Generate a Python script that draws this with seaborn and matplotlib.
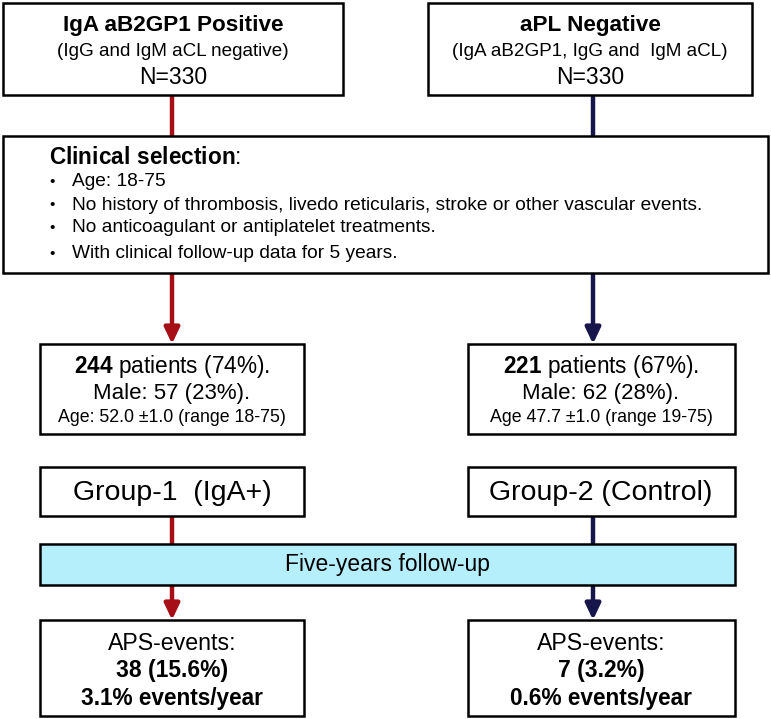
import matplotlib
matplotlib.use("Agg")
import matplotlib.pyplot as plt
from matplotlib.patches import Rectangle
import seaborn as sns

# study flow values
arm_titles = ["IgA aB2GP1 Positive", "aPL Negative"]
arm_criteria = ["(IgG and IgM aCL negative)", "(IgA aB2GP1, IgG and  IgM aCL)"]
n_screened = [330, 330]
selection_rules = [
    "Age: 18-75",
    "No history of thrombosis, livedo reticularis, stroke or other vascular events.",
    "No anticoagulant or antiplatelet treatments.",
    "With clinical follow-up data for 5 years.",
]
n_selected = [244, 221]
pct_selected = [74, 67]
n_male = [57, 62]
pct_male = [23, 28]
age_text = ["Age: 52.0 ±1.0 (range 18-75)", "Age 47.7 ±1.0 (range 19-75)"]
group_labels = ["Group-1  (IgA+)", "Group-2 (Control)"]
followup_label = "Five-years follow-up"
n_events = [38, 7]
pct_events = ["15.6", "3.2"]
events_year = ["3.1", "0.6"]

sns.set_theme(style="white")
plt.rcParams['font.family'] = ['Liberation Sans', 'DejaVu Sans']
plt.rcParams['text.color'] = 'black'
plt.rcParams['mathtext.fontset'] = 'custom'
plt.rcParams['mathtext.rm'] = 'Liberation Sans'
plt.rcParams['mathtext.bf'] = 'Liberation Sans:bold'

arm_colors = ['#A50F15', '#16164A']
fill_blue = '#B5EFFB'

fig = plt.figure(figsize=(7.71, 7.19), dpi=100)
ax = fig.add_axes([0, 0, 1, 1])
ax.set_xlim(0, 771)
ax.set_ylim(719, 0)
ax.axis('off')


def box(x0, y0, x1, y1, fc='white'):
    ax.add_patch(Rectangle((x0, y0), x1 - x0, y1 - y0, fc=fc, ec='black', lw=1.8, zorder=2))


def link(x, y0, y1, color, head=False):
    style = '-|>,head_length=0.95,head_width=0.45' if head else '-'
    ax.annotate('', xy=(x, y1), xytext=(x, y0),
                arrowprops=dict(arrowstyle=style, color=color, lw=3.2,
                                mutation_scale=10, shrinkA=0, shrinkB=0), zorder=1)


arm_x = [172, 593]
text_x = [172, 601]
side_boxes = [(40, 304), (468, 735)]

# top boxes
for i, (x0, x1) in enumerate([(3, 343), (428, 752)]):
    box(x0, 3, x1, 95)
    cx = (x0 + x1) / 2
    ax.text(cx, 25, arm_titles[i], ha='center', va='center', fontsize=16.2, fontweight='bold')
    ax.text(cx, 51, arm_criteria[i], ha='center', va='center', fontsize=13.6)
    ax.text(cx, 77, f"N={n_screened[i]}", ha='center', va='center', fontsize=16.5)
    link(arm_x[i], 95, 136, arm_colors[i])

# clinical selection box
box(3, 136, 768, 273)
ax.text(49, 158, r"$\mathbf{Clinical\ selection}$:", ha='left', va='center', fontsize=16.3)
for y, rule in zip([182, 205, 228, 254], selection_rules):
    ax.text(52, y, "•", ha='center', va='center', fontsize=11)
    ax.text(72, y, rule, ha='left', va='center', fontsize=13.8)

for i in range(2):
    x0, x1 = side_boxes[i]
    c = arm_colors[i]
    link(arm_x[i], 273, 344, c, head=True)
    box(x0, 344, x1, 434)
    ax.text(text_x[i], 367, rf"$\mathbf{{{n_selected[i]}}}$ patients ({pct_selected[i]}%).",
            ha='center', va='center', fontsize=16.3)
    ax.text(text_x[i], 393, f"Male: {n_male[i]} ({pct_male[i]}%).", ha='center', va='center', fontsize=16)
    ax.text(text_x[i], 418, age_text[i], ha='center', va='center', fontsize=12.8)

    box(x0, 467, x1, 516)
    ax.text(text_x[i], 493, group_labels[i], ha='center', va='center', fontsize=20.5)
    link(arm_x[i], 516, 544, c)
    link(arm_x[i], 585, 620, c, head=True)

    box(x0, 620, x1, 716)
    ax.text(text_x[i], 644, "APS-events:", ha='center', va='center', fontsize=16.7)
    ax.text(text_x[i], 671, f"{n_events[i]} ({pct_events[i]}%)", ha='center', va='center',
            fontsize=16.5, fontweight='bold')
    ax.text(text_x[i], 698, f"{events_year[i]}% events/year", ha='center', va='center',
            fontsize=16.3, fontweight='bold')

# follow-up band
box(40, 544, 735, 585, fc=fill_blue)
ax.text(387.5, 565, followup_label, ha='center', va='center', fontsize=16.5)

fig.savefig("out.png", dpi=100)
